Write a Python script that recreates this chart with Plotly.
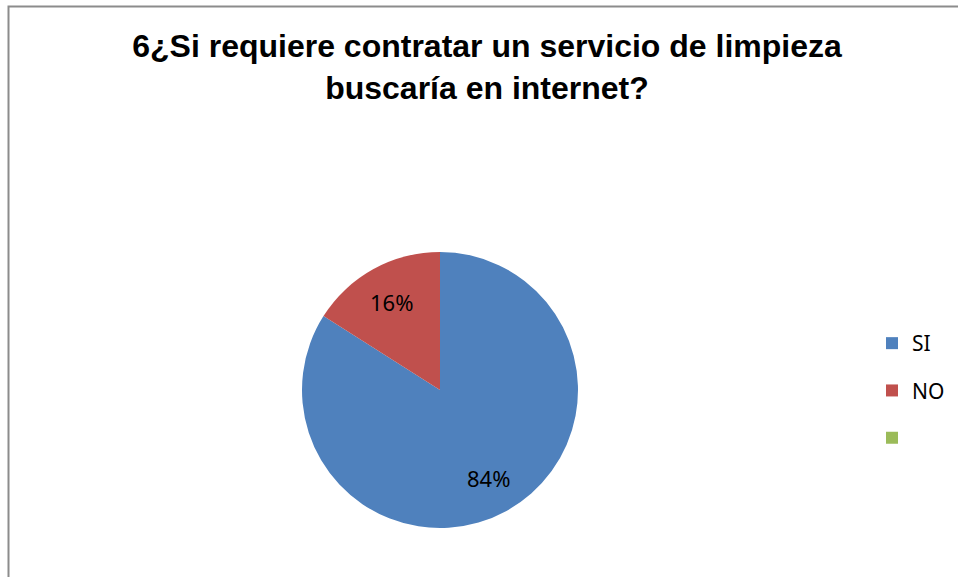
import math
import plotly.graph_objects as go

# Survey answers
categories = ["SI", "NO", " "]
values = [84, 16, 0]
colors = ["#4F81BD", "#C0504D", "#9BBB59"]
title_text = "6¿Si requiere contratar un servicio de limpieza<br>buscaría en internet?"

W, H = 958, 577
cx, cy, r = 440, 390, 138
label_radius = 0.73  # fraction of the pie radius where percentage labels sit

fig = go.Figure()

fig.add_trace(go.Pie(
    labels=categories,
    values=values,
    marker=dict(colors=colors, line=dict(color="white", width=0)),
    sort=False,
    direction="clockwise",
    rotation=0,
    textinfo="none",
    showlegend=False,
    hoverinfo="label+percent",
    domain=dict(x=[(cx - r) / W, (cx + r) / W], y=[(H - cy - r) / H, (H - cy + r) / H]),
))

# Percentage labels placed at each slice's mid-angle
total = sum(values)
cum = 0.0
annotations = []
for name, v in zip(categories, values):
    if v <= 0:
        continue
    mid = (cum + v / 2) / total * 2 * math.pi
    cum += v
    px = cx + label_radius * r * math.sin(mid)
    py = cy - label_radius * r * math.cos(mid)
    annotations.append(dict(
        x=px / W, y=1 - py / H, xref="paper", yref="paper",
        text=f"{round(v / total * 100)}%", showarrow=False,
        xanchor="center", yanchor="middle",
        font=dict(family="Noto Sans, Carlito, Calibri, sans-serif", size=22, color="black"),
    ))

# Legend entries as square markers, one group each so the spacing can be set
for name, col in zip(categories, colors):
    fig.add_trace(go.Scatter(
        x=[None], y=[None], mode="markers", name=name,
        legendgroup=name,
        marker=dict(symbol="square", size=12, color=col),
        showlegend=True,
    ))

fig.update_layout(
    width=W, height=H,
    margin=dict(l=0, r=0, t=0, b=0),
    paper_bgcolor="white",
    plot_bgcolor="white",
    xaxis=dict(visible=False),
    yaxis=dict(visible=False),
    title=dict(
        text=title_text,
        x=487 / W, xanchor="center",
        y=1 - 57 / H, yanchor="top",
        font=dict(family="Liberation Sans, Arial, sans-serif", size=32, color="black", weight="bold"),
    ),
    legend=dict(
        x=872 / W, xanchor="left",
        y=1 - 323 / H, yanchor="top",
        font=dict(family="Noto Sans, Carlito, Calibri, sans-serif", size=21, color="black"),
        tracegroupgap=17,
        bgcolor="rgba(0,0,0,0)",
    ),
    annotations=annotations,
    shapes=[dict(
        type="rect", xref="paper", yref="paper",
        x0=8.5 / W, x1=1.2, y0=-0.2, y1=1 - 6.5 / H,
        line=dict(color="#8C8C8C", width=2),
        fillcolor="rgba(0,0,0,0)",
        layer="below",
    )],
)

fig.write_html("out.html")
